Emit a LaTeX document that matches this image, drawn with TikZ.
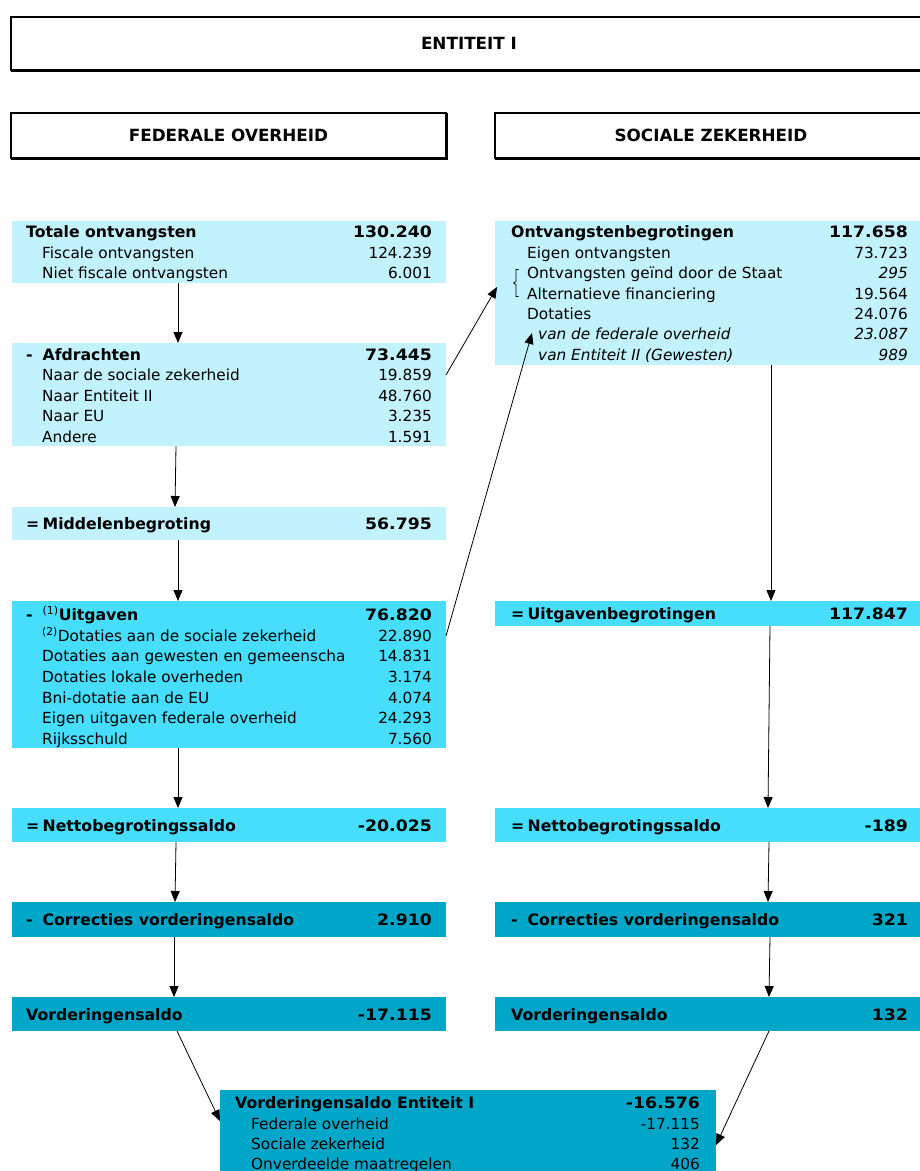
\documentclass[tikz,border=0pt]{standalone}
\usepackage{fontspec}
\usepackage{graphicx}
\setmainfont{DejaVu Sans}
\usetikzlibrary{arrows.meta}
\definecolor{cLight}{HTML}{C2F2FD}
\definecolor{cMid}{HTML}{47DEFE}
\definecolor{cDark}{HTML}{00A6C8}
\newcommand\BoxAt[6]{\node[box,fill=#2,minimum width=#5pt,minimum height=#6pt] (#1) at (#3,#4) {};}
\newcommand\TxtL[4]{\node[lab] (#1) at (#2,#3) {#4};}
\newcommand\TxtH[4]{\node[hd] (#1) at (#2,#3) {#4};}
\newcommand\NumR[4]{\node[num] (#1) at (#2,#3) {#4};}
\newcommand\NumH[4]{\node[hnum] (#1) at (#2,#3) {\scalebox{1.1}[1]{#4}};}
\newcommand\Pre[1]{\makebox[16.5pt][l]{#1}}
\begin{document}
\begin{tikzpicture}[x=1pt,y=-1pt,
 box/.style={anchor=north west, inner sep=0pt, outer sep=0pt, draw=none},
 lab/.style={anchor=base west, inner sep=0pt, font=\fontsize{15.3}{17}\selectfont},
 hd/.style={anchor=base west, inner sep=0pt, font=\fontsize{15.7}{17}\selectfont\bfseries},
 num/.style={anchor=base east, inner sep=0pt, font=\fontsize{15.3}{17}\selectfont},
 hnum/.style={anchor=base east, inner sep=0pt, font=\fontsize{15.7}{17}\selectfont\bfseries},
 arr/.style={draw, line width=0.8pt, -{Triangle[length=11pt,width=9pt]}},
 title/.style={draw, line width=1.3pt, anchor=north west, inner sep=0pt, outer sep=0pt, font=\fontsize{16.8}{19}\selectfont\bfseries}
]
\useasboundingbox (0,0) rectangle (920,1171);
\fill[white] (0,0) rectangle (920,1171);

% title boxes
\node[title, minimum width=916pt, minimum height=53pt] (ent) at (11,17) {ENTITEIT I};
\draw[line width=1.3pt] ([yshift=-1.2pt]ent.south west) -- ([yshift=-1.2pt]ent.south east);
\node[title, minimum width=435pt, minimum height=45pt] (fed) at (11,113) {FEDERALE OVERHEID};
\draw[line width=1.3pt] ([yshift=-1.2pt]fed.south west) -- ([xshift=1.2pt,yshift=-1.2pt]fed.south east) -- ([xshift=1.2pt]fed.north east);
\node[title, minimum width=432pt, minimum height=45pt] (soc) at (495,113) {SOCIALE ZEKERHEID};
\draw[line width=1.3pt] ([yshift=-1.2pt]soc.south west) -- ([yshift=-1.2pt]soc.south east);

% left column boxes
\BoxAt{tot}{cLight}{12}{221}{434}{62}
\BoxAt{afd}{cLight}{12}{343}{434}{103}
\BoxAt{mid}{cLight}{12}{507}{434}{33}
\BoxAt{uit}{cMid}{12}{601}{434}{147}
\BoxAt{net}{cMid}{12}{808}{434}{34}
\BoxAt{cor}{cDark}{12}{902}{434}{35}
\BoxAt{vor}{cDark}{12}{997}{434}{34}
% right column boxes
\BoxAt{ont}{cLight}{495}{221}{430}{144}
\BoxAt{uitb}{cMid}{495}{601}{430}{25}
\BoxAt{netr}{cMid}{495}{808}{430}{34}
\BoxAt{corr}{cDark}{495}{902}{430}{35}
\BoxAt{vorr}{cDark}{495}{997}{430}{34}
% bottom box
\BoxAt{ent1}{cDark}{220}{1090}{496}{81}

% left texts
\TxtH{t1}{26}{237}{Totale ontvangsten}
\NumH{t1n}{432}{237}{130.240}
\TxtL{t2}{42}{258}{Fiscale ontvangsten}
\NumR{t2n}{432}{258}{124.239}
\TxtL{t3}{42}{278}{Niet fiscale ontvangsten}
\NumR{t3n}{432}{278}{6.001}

\TxtH{a1}{26}{360}{\Pre{-}Afdrachten}
\NumH{a1n}{432}{360}{73.445}
\TxtL{a2}{42}{380}{Naar de sociale zekerheid}
\NumR{a2n}{432}{380}{19.859}
\TxtL{a3}{42}{401}{Naar Entiteit II}
\NumR{a3n}{432}{401}{48.760}
\TxtL{a4}{42}{421}{Naar EU}
\NumR{a4n}{432}{421}{3.235}
\TxtL{a5}{42}{442}{Andere}
\NumR{a5n}{432}{442}{1.591}

\TxtH{m1}{26}{529}{\Pre{=}Middelenbegroting}
\NumH{m1n}{432}{529}{56.795}

\TxtH{u1}{26}{620}{\Pre{-}\textsuperscript{\normalfont(1)}Uitgaven}
\NumH{u1n}{432}{620}{76.820}
\TxtL{u2}{42}{641}{\textsuperscript{(2)}Dotaties aan de sociale zekerheid}
\NumR{u2n}{432}{641}{22.890}
\begin{scope}
\clip (12,600) rectangle (343,750);
\TxtL{u3}{42}{661}{Dotaties aan gewesten en gemeenschappen}
\end{scope}
\NumR{u3n}{432}{661}{14.831}
\TxtL{u4}{42}{682}{Dotaties lokale overheden}
\NumR{u4n}{432}{682}{3.174}
\TxtL{u5}{42}{703}{Bni-dotatie aan de EU}
\NumR{u5n}{432}{703}{4.074}
\TxtL{u6}{42}{723}{Eigen uitgaven federale overheid}
\NumR{u6n}{432}{723}{24.293}
\TxtL{u7}{42}{744}{Rijksschuld}
\NumR{u7n}{432}{744}{7.560}

\TxtH{n1}{26}{831}{\Pre{=}Nettobegrotingssaldo}
\NumH{n1n}{432}{831}{-20.025}
\TxtH{c1}{26}{925}{\Pre{-}Correcties vorderingensaldo}
\NumH{c1n}{432}{925}{2.910}
\TxtH{v1}{26}{1020}{Vorderingensaldo}
\NumH{v1n}{432}{1020}{-17.115}

% right texts
\TxtH{o1}{511}{237}{Ontvangstenbegrotingen}
\NumH{o1n}{908}{237}{117.658}
\TxtL{o2}{527}{258}{Eigen ontvangsten}
\NumR{o2n}{908}{258}{73.723}
\TxtL{o3}{527}{278}{Ontvangsten geïnd door de Staat}
\NumR{o3n}{908}{278}{\itshape 295}
\TxtL{o4}{527}{299}{Alternatieve financiering}
\NumR{o4n}{908}{299}{19.564}
\TxtL{o5}{527}{319}{Dotaties}
\NumR{o5n}{908}{319}{24.076}
\TxtL{o6}{538}{339}{\itshape van de federale overheid}
\NumR{o6n}{908}{339}{\itshape 23.087}
\TxtL{o7}{538}{360}{\itshape van Entiteit II (Gewesten)}
\NumR{o7n}{908}{360}{\itshape 989}
\draw[line width=0.7pt] (518.5,269.5) -- (516,269.5) -- (516,281.5) -- (513.5,283) -- (516,284.5) -- (516,296.5) -- (518.5,296.5);

\TxtH{ub1}{511}{619}{\Pre{=}Uitgavenbegrotingen}
\NumH{ub1n}{908}{619}{117.847}
\TxtH{nr1}{511}{831}{\Pre{=}Nettobegrotingssaldo}
\NumH{nr1n}{908}{831}{-189}
\TxtH{cr1}{511}{925}{\Pre{-}Correcties vorderingensaldo}
\NumH{cr1n}{908}{925}{321}
\TxtH{vr1}{511}{1020}{Vorderingensaldo}
\NumH{vr1n}{908}{1020}{132}

% bottom texts
\TxtH{e1}{235}{1108}{Vorderingensaldo Entiteit I}
\NumH{e1n}{700}{1108}{-16.576}
\TxtL{e2}{251}{1129}{Federale overheid}
\NumR{e2n}{700}{1129}{-17.115}
\TxtL{e3}{251}{1149}{Sociale zekerheid}
\NumR{e3n}{700}{1149}{132}
\TxtL{e4}{251}{1169}{Onverdeelde maatregelen}
\NumR{e4n}{700}{1169}{406}

% arrows left column
\draw[arr] ([xshift=166pt]tot.south west) -- ([xshift=166pt]afd.north west);
\draw[arr] ([xshift=164pt]afd.south west) -- ([xshift=163pt]mid.north west);
\draw[arr] ([xshift=166pt]mid.south west) -- ([xshift=166pt]uit.north west);
\draw[arr] ([xshift=166pt]uit.south west) -- ([xshift=166pt]net.north west);
\draw[arr] ([xshift=164pt]net.south west) -- ([xshift=163pt]cor.north west);
\draw[arr] ([xshift=162pt]cor.south west) -- ([xshift=162pt]vor.north west);
% arrows right column
\draw[arr] ([xshift=276pt]ont.south west) -- ([xshift=276pt]uitb.north west);
\draw[arr] ([xshift=275pt]uitb.south west) -- ([xshift=273pt]netr.north west);
\draw[arr] ([xshift=274pt]netr.south west) -- ([xshift=273pt]corr.north west);
\draw[arr] ([xshift=275pt]corr.south west) -- ([xshift=274pt]vorr.north west);
% cross arrows
\draw[arr] ([yshift=-32pt]afd.north east) -- ([xshift=2pt,yshift=-66pt]ont.north west);
\draw[arr] ([yshift=-35pt]uit.north east) -- ([xshift=37pt,yshift=-112pt]ont.north west);
% to bottom
\draw[arr] ([xshift=165pt]vor.south west) -- ([yshift=-31pt]ent1.north west);
\draw[arr] ([xshift=274pt]vorr.south west) -- ([yshift=-55pt]ent1.north east);
\end{tikzpicture}
\end{document}
